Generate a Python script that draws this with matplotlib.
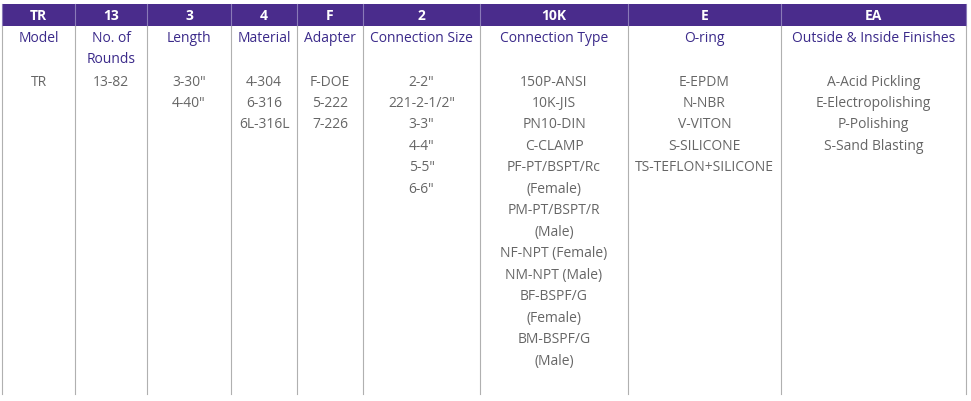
import matplotlib
matplotlib.use('agg')
import matplotlib.pyplot as plt

codes = ["TR", "13", "3", "4", "F", "2", "10K", "E", "EA"]
titles = [["Model"], ["No. of", "Rounds"], ["Length"], ["Material"], ["Adapter"],
          ["Connection Size"], ["Connection Type"], ["O-ring"], ["Outside & Inside Finishes"]]
options = [
    ["TR"],
    ["13-82"],
    ["3-30\"", "4-40\""],
    ["4-304", "6-316", "6L-316L"],
    ["F-DOE", "5-222", "7-226"],
    ["2-2\"", "221-2-1/2\"", "3-3\"", "4-4\"", "5-5\"", "6-6\""],
    ["150P-ANSI", "10K-JIS", "PN10-DIN", "C-CLAMP", "PF-PT/BSPT/Rc", "(Female)",
     "PM-PT/BSPT/R", "(Male)", "NF-NPT (Female)", "NM-NPT (Male)", "BF-BSPF/G",
     "(Female)", "BM-BSPF/G", "(Male)"],
    ["E-EPDM", "N-NBR", "V-VITON", "S-SILICONE", "TS-TEFLON+SILICONE"],
    ["A-Acid Pickling", "E-Electropolishing", "P-Polishing", "S-Sand Blasting"],
]
edges = [2, 75, 147, 231, 297, 363, 480, 628, 781, 966]

W, H = 971, 402
fig = plt.figure(figsize=(W / 100, H / 100), dpi=100)
ax = fig.add_axes([0, 0, 1, 1])
ax.set_xlim(0, W)
ax.set_ylim(H, 0)
ax.axis('off')

purple = "#4a2c8c"
ax.fill_between([edges[0], edges[-1]], 5, 27, color=purple, lw=0)
for x in edges:
    ax.plot([x, x], [5, 27], color="#8a7ab8", lw=0.8)
    ax.plot([x, x], [27, 395], color="#b0b0b0", lw=0.8)

font = "Open Sans"
step = 21.5
for i in range(len(codes)):
    cx = (edges[i] + edges[i + 1]) / 2
    ax.text(cx, 16, codes[i], color="white", fontweight="bold", ha="center", va="center",
            fontsize=10, family=font)
    for j, t in enumerate(titles[i]):
        ax.text(cx, 38 + j * step, t, color="#3b2a8a", ha="center", va="center",
                fontsize=10, family=font)
    for j, t in enumerate(options[i]):
        ax.text(cx, 82 + j * step, t, color="#666666", ha="center", va="center",
                fontsize=10, family=font)

plt.savefig("out.png", dpi=100)
